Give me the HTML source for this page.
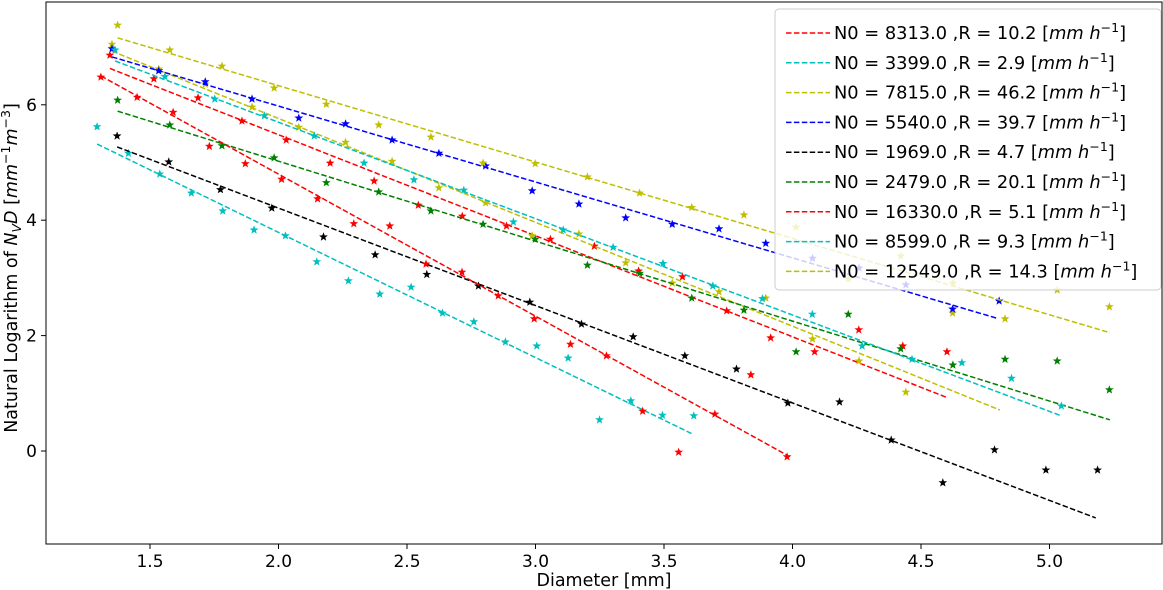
<!DOCTYPE html>
<html><head><meta charset="utf-8"><style>
html,body{margin:0;padding:0;background:#fff;}
svg{display:block;font-family:"DejaVu Sans","Liberation Sans",sans-serif;}
</style></head><body>
<svg id="chart" width="1163" height="590" viewBox="0 0 1163 590" xmlns="http://www.w3.org/2000/svg">
<rect x="0" y="0" width="1163" height="590" fill="#fff"/>
<g id="marks"></g>
<g id="axes"></g>
</svg>
<script>
// ---- data ----
const seriesColors = ["#ff0000","#00bfbf","#bfbf00","#0000ff","#000000","#008000","#ff0000","#00bfbf","#bfbf00"];
const seriesN0 = ["8313.0","3399.0","7815.0","5540.0","1969.0","2479.0","16330.0","8599.0","12549.0"];
const seriesR = ["10.2","2.9","46.2","39.7","4.7","20.1","5.1","9.3","14.3"];

const xRedA = [1.344,1.515,1.687,1.858,2.030,2.201,2.372,2.544,2.715,2.887,3.058,3.229,3.401,3.572,3.744,3.915,4.086,4.258,4.429,4.601];
const yRedA = [6.86,6.45,6.12,5.72,5.39,4.99,4.68,4.26,4.07,3.90,3.67,3.55,3.12,3.02,2.43,1.96,1.72,2.10,1.82,1.72];
const xCyanA = [1.294,1.416,1.538,1.661,1.783,1.905,2.027,2.149,2.272,2.394,2.516,2.638,2.760,2.883,3.005,3.127,3.249,3.371,3.494,3.616];
const yCyanA = [5.62,5.16,4.80,4.47,4.16,3.83,3.73,3.28,2.95,2.72,2.84,2.39,2.24,1.89,1.82,1.61,0.54,0.87,0.62,0.61];
const xYellowB = [1.352,1.534,1.715,1.897,2.079,2.261,2.442,2.624,2.806,2.987,3.169,3.351,3.532,3.714,3.896,4.078,4.259,4.441,4.623];
const yYellowB = [7.05,6.62,6.36,5.96,5.61,5.35,5.02,4.56,4.30,3.73,3.76,3.26,2.91,2.76,2.65,1.94,1.56,1.02,2.39];
const xBlue = [1.352,1.534,1.715,1.897,2.079,2.261,2.442,2.624,2.806,2.987,3.169,3.351,3.532,3.714,3.896,4.078,4.259,4.441,4.623,4.804];
const yBlue = [6.97,6.59,6.40,6.10,5.77,5.67,5.39,5.16,4.94,4.51,4.28,4.04,3.93,3.85,3.60,3.34,3.17,2.88,2.46,2.60];
const xBlack = [1.372,1.573,1.774,1.974,2.175,2.376,2.577,2.778,2.978,3.179,3.380,3.581,3.782,3.982,4.183,4.384,4.585,4.786,4.986,5.187];
const yBlack = [5.46,5.01,4.53,4.21,3.71,3.40,3.06,2.86,2.58,2.20,1.98,1.65,1.42,0.83,0.85,0.19,-0.55,0.02,-0.33,-0.33];
const xGreen = [1.374,1.577,1.780,1.983,2.186,2.390,2.593,2.796,2.999,3.202,3.405,3.608,3.811,4.014,4.217,4.421,4.624,4.827,5.030,5.233];
const yGreen = [6.08,5.65,5.29,5.08,4.65,4.49,4.16,3.93,3.67,3.22,3.08,2.65,2.44,1.72,2.37,1.77,1.49,1.59,1.56,1.06];
const xRedB = [1.309,1.450,1.590,1.731,1.871,2.012,2.152,2.293,2.433,2.574,2.714,2.855,2.995,3.136,3.276,3.417,3.557,3.698,3.838,3.979];
const yRedB = [6.48,6.13,5.87,5.28,4.98,4.71,4.37,3.94,3.90,3.24,3.10,2.69,2.29,1.85,1.65,0.69,-0.02,0.64,1.32,-0.10];
const xCyanB = [1.364,1.558,1.752,1.945,2.139,2.333,2.527,2.721,2.914,3.108,3.302,3.496,3.690,3.883,4.077,4.271,4.465,4.659,4.852,5.046];
const yCyanB = [6.95,6.49,6.10,5.81,5.46,4.99,4.70,4.52,3.97,3.83,3.53,3.25,2.86,2.64,2.37,1.82,1.59,1.53,1.26,0.78];
const xYellowA = [1.374,1.577,1.780,1.983,2.186,2.390,2.593,2.796,2.999,3.202,3.405,3.608,3.811,4.014,4.217,4.421,4.624,4.827,5.030,5.233];
const yYellowA = [7.38,6.95,6.67,6.29,6.01,5.65,5.44,4.99,4.98,4.75,4.47,4.22,4.09,3.88,2.98,3.38,2.91,2.29,2.79,2.50];

// fitted line endpoints per series
const fitX0 = [1.344,1.294,1.352,1.352,1.372,1.374,1.309,1.364,1.374];
const fitY0 = [6.63,5.32,6.93,6.83,5.27,5.89,6.50,6.76,7.16];
const fitX1 = [4.605,3.613,4.807,4.796,5.180,5.235,3.990,5.040,5.235];
const fitY1 = [0.92,0.29,0.71,2.30,-1.16,0.54,-0.10,0.62,2.05];

const xTicks = [1.5,2.0,2.5,3.0,3.5,4.0,4.5,5.0];
const xTickLabels = ["1.5","2.0","2.5","3.0","3.5","4.0","4.5","5.0"];
const yTicks = [0,2,4,6];
const yTickLabels = ["0","2","4","6"];

const seriesX = [xRedA,xCyanA,xYellowB,xBlue,xBlack,xGreen,xRedB,xCyanB,xYellowA];
const seriesY = [yRedA,yCyanA,yYellowB,yBlue,yBlack,yGreen,yRedB,yCyanB,yYellowA];
const seriesNames = ["red-a","cyan-a","yellow-b","blue","black","green","red-b","cyan-b","yellow-a"];

// ---- scales ----
const L=46,R=1162,T=2,B=544;
function sx(v){return 150+(v-1.5)*257;}
function sy(v){return 451-v*57.7;}
const NS="http://www.w3.org/2000/svg";
function mk(tag,attrs,parent){const e=document.createElementNS(NS,tag);for(const k in attrs)e.setAttribute(k,attrs[k]);parent.appendChild(e);return e;}
function starPts(cx,cy,r){let p=[];for(let i=0;i<10;i++){const a=-Math.PI/2+i*Math.PI/5;const rr=i%2?r*0.42:r;p.push((cx+rr*Math.cos(a)).toFixed(1)+","+(cy+rr*Math.sin(a)).toFixed(1));}return p.join(" ");}

const marks=document.getElementById('marks');
for(let s=0;s<seriesX.length;s++){
  const g=mk('g',{},marks);
  
  
  const ln=mk('line',{x1:sx(fitX0[s]),y1:sy(fitY0[s]),x2:sx(fitX1[s]),y2:sy(fitY1[s]),stroke:seriesColors[s],'stroke-width':1.5,'stroke-dasharray':'5.5,2.4'},g);
  
  
  for(let i=0;i<seriesX[s].length;i++){
    const st=mk('polygon',{points:starPts(sx(seriesX[s][i]),sy(seriesY[s][i]),4.6),fill:seriesColors[s]},g);
    
    
  }
}

// axes
const axes=document.getElementById('axes');
const frame=mk('rect',{x:L,y:T,width:R-L,height:B-T,fill:'none',stroke:'#000','stroke-width':1},axes);


xTicks.forEach((v,i)=>{
  mk('line',{x1:sx(v),y1:B,x2:sx(v),y2:B+5,stroke:'#000'},axes);
  const t=mk('text',{x:sx(v),y:B+23,'text-anchor':'middle','font-size':17},axes);
  t.textContent=xTickLabels[i];
  
  
});
yTicks.forEach((v,i)=>{
  mk('line',{x1:L-5,y1:sy(v),x2:L,y2:sy(v),stroke:'#000'},axes);
  const t=mk('text',{x:L-9,y:sy(v)+6,'text-anchor':'end','font-size':17},axes);
  t.textContent=yTickLabels[i];
  
  
});
</script>
<svg style="position:absolute;left:0;top:0" width="1163" height="590" xmlns="http://www.w3.org/2000/svg">
<text x="604" y="586" text-anchor="middle" font-size="17.5" font-family="DejaVu Sans, sans-serif">Diameter [mm]</text>
<text transform="translate(17,268) rotate(-90)" text-anchor="middle" font-size="17.5" font-family="DejaVu Sans, sans-serif">Natural Logarithm of <tspan font-style="italic">N</tspan><tspan font-style="italic" font-size="12.5" dy="4">V</tspan><tspan font-style="italic" dy="-4">D</tspan> [<tspan font-style="italic">mm</tspan><tspan font-size="12.5" dy="-7">−1</tspan><tspan font-style="italic" dy="7">m</tspan><tspan font-size="12.5" dy="-7">−3</tspan><tspan dy="7">]</tspan></text>
<g id="legend2"></g>
</svg>
<script>
const lg=document.getElementById('legend2');
const lr=mk('rect',{x:775,y:9,width:386,height:281,rx:4,fill:'#fff','fill-opacity':0.8,stroke:'#ccc','stroke-width':1},lg);


for(let s=0;s<seriesColors.length;s++){
  const y=33+s*29.8;
  const g=mk('g',{},lg);
  
  
  mk('line',{x1:786,y1:y,x2:830,y2:y,stroke:seriesColors[s],'stroke-width':1.5,'stroke-dasharray':'5.5,2.4'},g);
  const t=mk('text',{x:834,y:y+6,'font-size':17.8,'font-family':'DejaVu Sans, sans-serif'},g);
  t.innerHTML='N0 = '+seriesN0[s]+' ,R = '+seriesR[s]+' [<tspan font-style="italic">mm h</tspan><tspan font-size="12.5" dy="-7">−1</tspan><tspan dy="7">]</tspan>';
}
</script>
</body></html>
